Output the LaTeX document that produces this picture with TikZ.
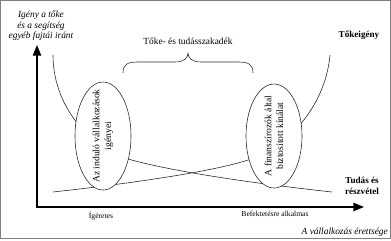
\documentclass[tikz,border=0pt]{standalone}
\usepackage{fontspec}
\setmainfont{Liberation Serif}
\usetikzlibrary{arrows.meta,shapes.geometric}

\begin{document}
\begin{tikzpicture}[x=0.03cm,y=-0.03cm,>={Triangle[length=9pt,width=7pt]},
 axis/.style={line width=1.4pt},
 curve/.style={line width=0.5pt,draw=black!85},
 oval/.style={ellipse,draw=black!85,line width=0.5pt,fill=white,inner sep=0pt,minimum width=1.68cm},
 ovaltext/.style={rotate=90,align=center,font=\fontsize{8.2}{10}\selectfont,inner sep=0pt},
 small/.style={font=\fontsize{6.5}{8}\selectfont},
 bold/.style={font=\bfseries\fontsize{7.8}{9.5}\selectfont,align=center}]
\useasboundingbox (0,0) rectangle (391,240);
\draw[gray,line width=0.6pt] (0.5,0.5) rectangle (390.5,238);
% axes
\coordinate (ytip) at (37,45);
\coordinate (xtip) at (364,207);
\draw[axis,<->] (ytip) |- (xtip);
% the two curves
\coordinate (a1) at (53,55);
\coordinate (a2) at (128,159);
\coordinate (a3) at (332,192);
\coordinate (b1) at (53,192);
\coordinate (b2) at (248,160);
\coordinate (b3) at (330,55);
\draw[curve] (a1) .. controls (53,110) and (95,150) .. (a2)
 .. controls (170,171) and (250,183) .. (a3);
\draw[curve] (b1) .. controls (135,183) and (215,171) .. (b2)
 .. controls (283,150) and (325,110) .. (b3);
% ovals
\node[oval,minimum height=3.24cm] (indulo) at (103,136) {};
\node[ovaltext] at (indulo) {Az induló vállalkozások\\igényei};
\node[oval,minimum height=3.12cm] (kinalat) at (274,136) {};
\node[ovaltext] at (kinalat) {A finanszírozók által\\biztosított kínálat};
% brace
\coordinate (bl) at (123,73);
\coordinate (bt) at (188,53);
\coordinate (br) at (253,73);
\draw[curve] (bl) .. controls (123,64) and (128,62) .. (138,62) -- (175,62)
 .. controls (184,62) and (188,58) .. (bt)
 .. controls (188,58) and (192,62) .. (201,62) -- (238,62)
 .. controls (248,62) and (253,64) .. (br);
% labels
\node[font=\itshape\fontsize{8}{9}\selectfont,align=center] (igeny) at (41,26) {Igény a tőke\\és a segítség\\egyéb fajtái iránt};
\node[font=\fontsize{8}{9}\selectfont] (szakadek) at (188,41) {Tőke- és tudásszakadék};
\node[bold] (tokeigeny) at (359,35) {Tőkeigény};
\node[bold] (tudas) at (362,186) {Tudás és\\részvétel};
\node[small] (igeretes) at (101,216) {Ígéretes};
\node[small] (befektet) at (275,214) {Befektetésre alkalmas};
\node[font=\itshape\fontsize{8}{9}\selectfont,anchor=east,inner sep=0pt] (erett) at (388,232) {A vállalkozás érettsége};
\end{tikzpicture}
\end{document}
